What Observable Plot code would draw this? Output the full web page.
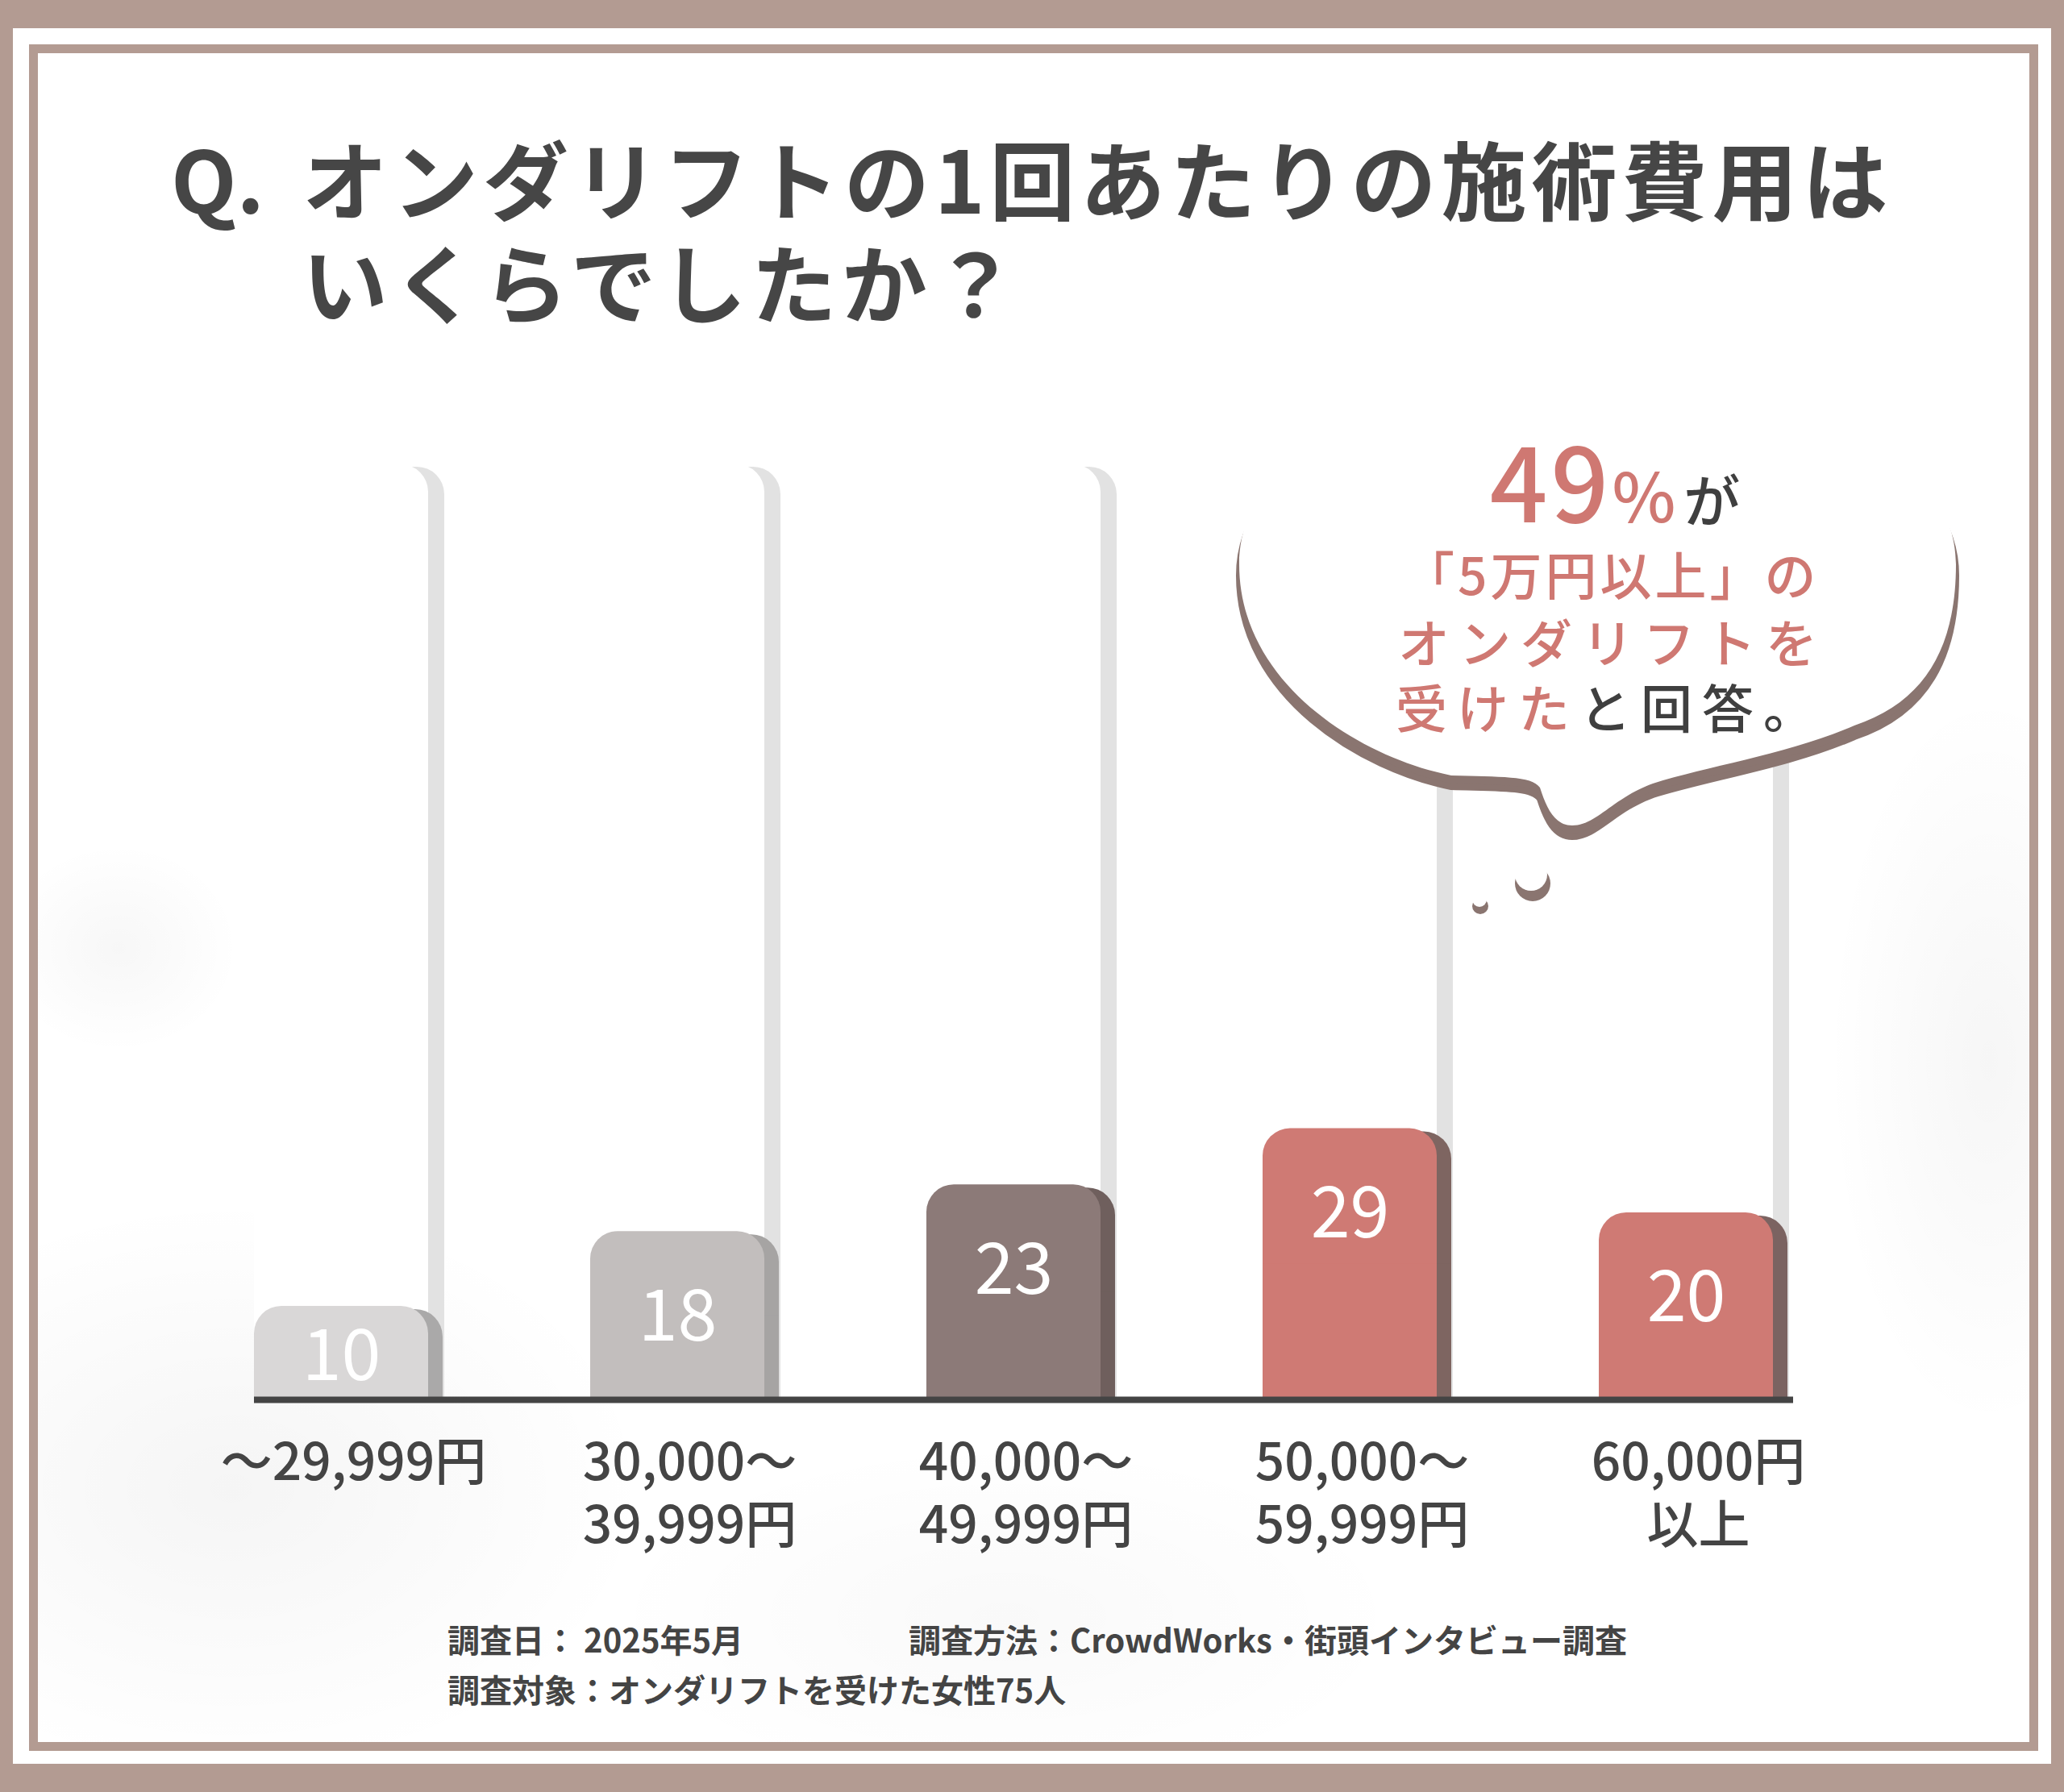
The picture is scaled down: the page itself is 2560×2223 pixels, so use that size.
<!DOCTYPE html>
<html>
<head>
<meta charset="utf-8">
<script src="https://cdn.jsdelivr.net/npm/d3@7"></script>
<script src="https://cdn.jsdelivr.net/npm/@observablehq/plot@0.6"></script>
<style>
  html, body { margin: 0; padding: 0; background: #b39b92; }
  #page { position: relative; width: 2560px; height: 2223px; overflow: hidden; background: #b39b92; font-family: "Noto Sans CJK JP", "Noto Sans", sans-serif; }
  #white { position: absolute; left: 16px; top: 35px; width: 2528px; height: 2153px; background: #ffffff; }
  #inner { position: absolute; left: 36px; top: 55px; width: 2492px; height: 2117px; box-sizing: border-box; border: 11px solid #b39b92;
    background:
      radial-gradient(ellipse 150px 130px at 100px 1110px, rgba(0,0,0,0.03), rgba(0,0,0,0) 100%),
      radial-gradient(ellipse 520px 360px at 240px 1780px, rgba(0,0,0,0.04), rgba(0,0,0,0) 100%),
      radial-gradient(ellipse 200px 460px at 2420px 1250px, rgba(0,0,0,0.035), rgba(0,0,0,0) 100%),
      radial-gradient(ellipse 500px 220px at 1200px 1940px, rgba(0,0,0,0.025), rgba(0,0,0,0) 100%),
      #ffffff;
  }
  #title { position: absolute; left: 212px; top: 155px; font-weight: 700; font-size: 106px; letter-spacing: 6px; line-height: 128px; color: #464646; white-space: nowrap; }
  #title .q { display: inline-block; width: 163px; letter-spacing: 0; }
  #chart { position: absolute; left: 0; top: 480px; }
  #bubble { position: absolute; left: 0; top: 0; }
  .foot { position: absolute; font-size: 40px; line-height: 40px; font-weight: 700; color: #444; white-space: nowrap; }
</style>
</head>
<body>
<div id="page">
  <div id="white"></div>
  <div id="inner"></div>
  <div id="title"><span class="q">Q.</span>オンダリフトの1回あたりの施術費用は<br><span class="q"></span>いくらでしたか？</div>
  <div id="chart"></div>
  <svg id="bubble" width="2560" height="2223" viewBox="0 0 2560 2223" font-family="'Noto Sans CJK JP', sans-serif">
    <g>
      <path transform="translate(0,14)" fill="#8a7570" stroke="#8a7570" stroke-width="8" stroke-linejoin="round"
        d="M 1980 475 C 2260 475, 2426 570, 2426 700 C 2426 800, 2390 870, 2300 900 C 2220 935, 2120 950, 2050 972 C 2000 990, 1980 1024, 1950 1024 C 1928 1024, 1918 1002, 1910 977 C 1900 962, 1860 964, 1800 962 C 1690 940, 1537 850, 1537 700 C 1537 560, 1720 475, 1980 475 Z"/>
      <path fill="#ffffff"
        d="M 1980 475 C 2260 475, 2426 570, 2426 700 C 2426 800, 2390 870, 2300 900 C 2220 935, 2120 950, 2050 972 C 2000 990, 1980 1024, 1950 1024 C 1928 1024, 1918 1002, 1910 977 C 1900 962, 1860 964, 1800 962 C 1690 940, 1537 850, 1537 700 C 1537 560, 1720 475, 1980 475 Z"/>
      <circle cx="1901" cy="1096" r="22" fill="#8a7570"/>
      <circle cx="1899" cy="1085" r="20" fill="#ffffff"/>
      <circle cx="1836" cy="1124" r="10" fill="#8a7570"/>
      <circle cx="1835" cy="1116" r="9" fill="#ffffff"/>
    </g>
    <text x="2003" y="648" text-anchor="middle" font-weight="500">
      <tspan fill="#cf7872" font-size="126" letter-spacing="4">49</tspan><tspan fill="#cf7872" font-size="84">%</tspan><tspan fill="#3f3f3f" font-size="70" dx="10">が</tspan>
    </text>
    <text x="1740" y="738" font-size="64" font-weight="500" fill="#cf7872" letter-spacing="4">「5万円以上」の</text>
    <text x="1734" y="822" font-size="64" font-weight="500" fill="#cf7872" letter-spacing="12">オンダリフトを</text>
    <text x="1731" y="903" font-size="64" font-weight="500" letter-spacing="12"><tspan fill="#cf7872">受けた</tspan><tspan fill="#3f3f3f">と回答。</tspan></text>
  </svg>
  <div class="foot" style="left:555px;top:2013px;">調査日： 2025年5月</div>
  <div class="foot" style="left:1127px;top:2013px;">調査方法：CrowdWorks・街頭インタビュー調査</div>
  <div class="foot" style="left:555px;top:2075px;">調査対象：オンダリフトを受けた女性75人</div>
</div>
<script>
// ---- data ----
const categories = ["〜29,999円", "30,000〜\n39,999円", "40,000〜\n49,999円", "50,000〜\n59,999円", "60,000円\n以上"];
const values = [10, 18, 23, 29, 20];
const fullScale = 100;

// ---- styles ----
const faceColors = ["#d9d7d7", "#c2bebd", "#8c7a78", "#cf7a74", "#cf7a74"];
const sideColors = ["#aaa9a9", "#a6a4a3", "#6f5f5d", "#7e6561", "#7b6361"];

const rows = categories.map((c, i) => ({category: c, value: values[i], face: faceColors[i], side: sideColors[i]}));

const chart = Plot.plot({
  width: 2560,
  height: 1500,
  marginLeft: 315,
  marginRight: 336,
  marginTop: 96,
  marginBottom: 244,
  style: {background: "transparent", fontFamily: "'Noto Sans CJK JP', sans-serif", overflow: "visible"},
  x: {domain: categories, paddingInner: 0.481, paddingOuter: 0.024, align: 0, axis: null},
  y: {domain: [0, fullScale], axis: null},
  color: {type: "identity"},
  marks: [
    // background tracks (full scale)
    Plot.barY(rows, {x: "category", y: () => fullScale, fill: "#e2e2e2", dx: 20, dy: 3, rx: 34}),
    Plot.barY(rows, {x: "category", y: () => fullScale / 2, fill: "#e2e2e2", dx: 20}),
    Plot.barY(rows, {x: "category", y: () => fullScale, fill: "#ffffff", rx: 34}),
    Plot.barY(rows, {x: "category", y: () => fullScale / 2, fill: "#ffffff"}),
    // value bars: side
    Plot.barY(rows, {x: "category", y: "value", fill: "side", dx: 18, dy: 4, rx: 34}),
    Plot.barY(rows, {x: "category", y: d => d.value / 2, fill: "side", dx: 18}),
    // value bars: face
    Plot.barY(rows, {x: "category", y: "value", fill: "face", rx: 34}),
    Plot.barY(rows, {x: "category", y: d => d.value / 2, fill: "face"}),
    // baseline
    Plot.ruleY([0], {stroke: "#444444", strokeWidth: 8}),
    // value labels
    Plot.text(rows, {
      x: "category",
      y: d => d.value - Math.min(9.2, d.value * 0.55),
      text: d => String(d.value),
      fill: "#ffffff",
      fontSize: 88,
      fontWeight: 400,
      lineAnchor: "middle"
    }),
    Plot.axisX({tickSize: 0, tickPadding: 44, dx: 15, fontSize: 64, lineHeight: 1.22, fill: "#444444", fontWeight: 500, label: null})
  ]
});
document.getElementById("chart").appendChild(chart);
</script>
</body>
</html>
